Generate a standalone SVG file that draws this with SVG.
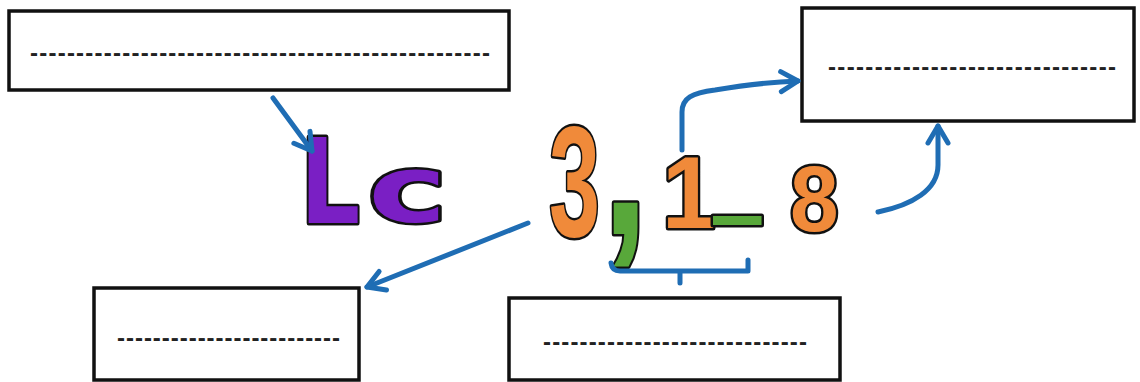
<svg xmlns="http://www.w3.org/2000/svg" width="1140" height="382" viewBox="0 0 1140 382">
<defs>
<style>
.box{fill:#fff;stroke:#111;stroke-width:3.5}
.dash{font-family:"Liberation Sans",Arial,sans-serif;font-size:24px;font-weight:bold;fill:#222}
.conn{fill:none;stroke:#1f6db4;stroke-width:5;stroke-linecap:round;stroke-linejoin:round}
.glyph{stroke:#111;stroke-width:5;paint-order:stroke;stroke-linejoin:round}
.bub{font-family:"DejaVu Sans",sans-serif;font-weight:bold}
.num{font-family:"Liberation Sans",Arial,sans-serif;font-weight:bold}
.purple{fill:#7a1fc4}
.orange{fill:#f08a3a}
.green{fill:#58a83a}
</style>
<marker id="arr" markerUnits="userSpaceOnUse" viewBox="-24 -14 30 28" markerWidth="30" markerHeight="28" refX="0" refY="0" orient="auto">
<path d="M-17,-10 L0,0 L-17,10" fill="none" stroke="#1f6db4" stroke-width="5" stroke-linecap="round" stroke-linejoin="round"/>
</marker>
</defs>
<rect width="1140" height="382" fill="#fff"/>

<g id="box-top-left">
<rect class="box" x="9" y="11" width="500" height="79"/>
<text class="dash" x="30" y="61" textLength="460" lengthAdjust="spacing">--------------------------------------------------</text>
</g>
<g id="box-top-right">
<rect class="box" x="802" y="8" width="332" height="113"/>
<text class="dash" x="828" y="75" textLength="288" lengthAdjust="spacing">-------------------------------</text>
</g>
<g id="box-bottom-left">
<rect class="box" x="94" y="288" width="265" height="92"/>
<text class="dash" x="117" y="346" textLength="223" lengthAdjust="spacing">-------------------------</text>
</g>
<g id="box-bottom-right">
<rect class="box" x="509" y="298" width="331" height="82"/>
<text class="dash" x="543" y="350" textLength="264" lengthAdjust="spacing">-----------------------------</text>
</g>

<g id="formula">
<text class="glyph bub purple" font-size="118" transform="translate(300,223) scale(0.8,1)">L</text>
<text class="glyph bub purple" font-size="92" transform="translate(368,222) scale(1.45,1)">c</text>
<text class="glyph num orange" font-size="158" transform="translate(549,236) scale(0.58,1)">3</text>
<text class="glyph num green" font-size="210" transform="translate(602,234) scale(0.8,1)">,</text>
<text class="glyph num orange" font-size="102" transform="translate(662,228) scale(0.95,1)">1</text>
<text class="glyph bub green" font-size="97" x="713" y="202">_</text>
<text class="glyph num orange" font-size="92" transform="translate(790,231) scale(0.95,1)">8</text>
</g>

<g id="connectors">
<path class="conn" d="M273,98 L312,151" marker-end="url(#arr)"/>
<path class="conn" d="M528,223 L367,287" marker-end="url(#arr)"/>
<path class="conn" d="M682,150 L682,112 C682,98 692,93 715,90 C745,85 770,82 798,81" marker-end="url(#arr)"/>
<path class="conn" d="M878,212 C912,205 938,190 938,165 L938,126" marker-end="url(#arr)"/>
<path class="conn" d="M611,263 Q612,271 620,271 L748,271 L748,260 M680,271 L680,283"/>
</g>
</svg>
